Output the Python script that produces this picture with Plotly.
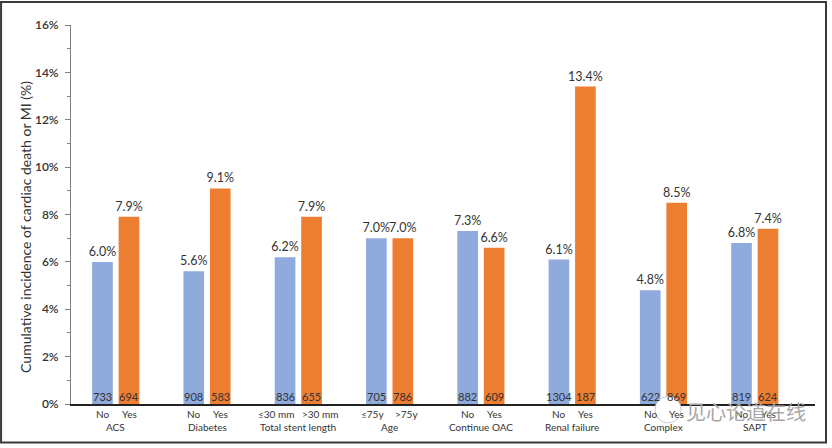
"""Cumulative incidence of cardiac death or MI by subgroup"""
import plotly.graph_objects as go

groups = ["ACS", "Diabetes", "Total stent length", "Age", "Continue OAC",
          "Renal failure", "Complex", "SAPT"]
left_labels = ["No", "No", "≤30 mm", "≤75y", "No", "No", "No", "No"]
right_labels = ["Yes", "Yes", ">30 mm", ">75y", "Yes", "Yes", "Yes", "Yes"]
left_values = [6.0, 5.6, 6.2, 7.0, 7.3, 6.1, 4.8, 6.8]
right_values = [7.9, 9.1, 7.9, 7.0, 6.6, 13.4, 8.5, 7.4]
left_counts = [733, 908, 836, 705, 882, 1304, 622, 819]
right_counts = [694, 583, 655, 786, 609, 187, 869, 624]
y_ticks = [0, 2, 4, 6, 8, 10, 12, 14, 16]

FONT = "Lato"
BLUE = "#8faadc"
ORANGE = "#ed7d31"
TEXT = "#333333"
SHIFT = 13.3
LABEL_SHIFT = {"Total stent length": 22, "Age": 17}

fig = go.Figure()
fig.add_trace(go.Bar(x=groups, y=left_values, marker_color=BLUE, marker_line_width=0,
                     text=[f"{v:.1f}%" for v in left_values], textposition="outside",
                     cliponaxis=False))
fig.add_trace(go.Bar(x=groups, y=right_values, marker_color=ORANGE, marker_line_width=0,
                     text=[f"{v:.1f}%" for v in right_values], textposition="outside",
                     cliponaxis=False))
fig.update_traces(textfont=dict(family=FONT, size=12.5, color=TEXT), constraintext="none")

# n under each bar + the two level x labels
for i, g in enumerate(groups):
    lab_shift = LABEL_SHIFT.get(g, SHIFT)
    for sign, n, lab in ((-1, left_counts[i], left_labels[i]), (1, right_counts[i], right_labels[i])):
        fig.add_annotation(x=g, y=0, yref="y", xshift=sign * SHIFT, yshift=8, text=str(n),
                           showarrow=False, font=dict(family=FONT, size=11, color=TEXT))
        fig.add_annotation(x=g, y=0, yref="y", xshift=sign * lab_shift, yshift=-10, text=lab,
                           showarrow=False, font=dict(family=FONT, size=10, color=TEXT))
    fig.add_annotation(x=g, y=0, yref="y", yshift=-23, text=g, showarrow=False,
                       font=dict(family=FONT, size=10, color=TEXT))

# y title as annotation, it sits a bit below the axis centre
fig.add_annotation(x=-0.062, y=0.467, xref="paper", yref="paper", textangle=-90,
                   text="Cumulative incidence of cardiac death or MI (%)", showarrow=False,
                   xanchor="center", yanchor="middle", font=dict(family=FONT, size=14, color=TEXT))

# watermark
fig.add_shape(type="circle", xref="paper", yref="paper", x0=0.785, x1=0.82, y0=-0.05, y1=0.02,
              fillcolor="white", line=dict(color="#cccccc", width=1))
fig.add_annotation(x=0.907, y=-0.021, xref="paper", yref="paper", text="见心论道在线",
                   showarrow=False, xanchor="center", yanchor="middle",
                   font=dict(family="Noto Sans CJK SC", size=20, color="#a8a8a8"))

# picture frame
fig.add_shape(type="rect", xref="paper", yref="paper", x0=-0.094, x1=1.0148, y0=-0.1016, y1=1.0607,
              line=dict(color="#3a3a3a", width=2), fillcolor="rgba(0,0,0,0)")

fig.update_layout(
    width=832, height=448, showlegend=False, barmode="group",
    bargap=0.42, bargroupgap=0.22,
    margin=dict(l=71, r=17, t=25, b=44),
    plot_bgcolor="white", paper_bgcolor="white",
    font=dict(family=FONT, color=TEXT),
)
fig.update_xaxes(range=[-0.49, 7.66], showticklabels=False, ticks="", showgrid=False,
                 showline=True, linecolor="#222222", linewidth=2)
fig.update_yaxes(range=[0, 16], tickvals=y_ticks, ticktext=[f"{t}%" for t in y_ticks],
                 showgrid=False, zeroline=False, showline=True, linecolor="#7f7f7f", linewidth=1,
                 ticks="outside", ticklen=5, tickcolor="#7f7f7f", ticklabelstandoff=4,
                 minor=dict(dtick=1, ticks="outside", ticklen=3, tickcolor="#7f7f7f"),
                 tickfont=dict(family=FONT, size=12, color=TEXT, weight=600))

fig.write_html("out.html", post_script="document.body.style.margin='0';",
               config={"displayModeBar": False})
